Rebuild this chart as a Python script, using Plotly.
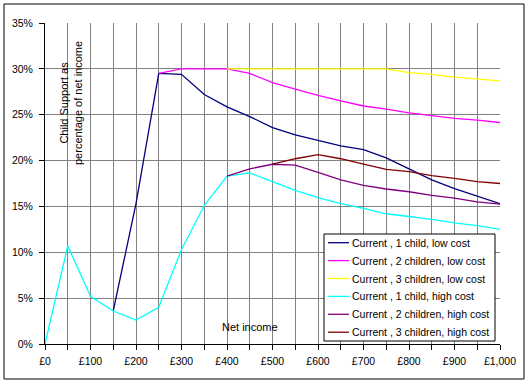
import plotly.graph_objects as go

# ---- data ----
income = [0, 50, 100, 150, 200, 250, 300, 350, 400, 450, 500,
          550, 600, 650, 700, 750, 800, 850, 900, 950, 1000]

series_names = [
    "Current , 1 child, low cost",
    "Current , 2 children, low cost",
    "Current , 3 children, low cost",
    "Current , 1 child, high cost",
    "Current , 2 children, high cost",
    "Current , 3 children, high cost",
]
series_colors = ["#000080", "#FF00FF", "#FFFF00", "#00FFFF", "#800080", "#800000"]

one_child_low = [None, None, None, 3.6, 15.3, 29.5, 29.4, 27.2, 25.85, 24.8, 23.6,
                 22.8, 22.2, 21.6, 21.2, 20.3, 19.1, 17.9, 16.95, 16.1, 15.3]
two_children_low = [None, None, None, None, None, 29.5, 30.0, 30.0, 30.0, 29.5, 28.5,
                    27.8, 27.1, 26.5, 25.95, 25.6, 25.2, 24.9, 24.6, 24.4, 24.15]
three_children_low = [None, None, None, None, None, None, None, None, 30.0, 30.0, 30.0,
                      30.0, 30.0, 30.0, 30.0, 30.0, 29.6, 29.4, 29.1, 28.9, 28.7]
one_child_high = [0.0, 10.7, 5.2, 3.6, 2.6, 4.0, 10.3, 15.1, 18.3, 18.65, 17.7,
                  16.75, 15.95, 15.3, 14.8, 14.2, 13.9, 13.6, 13.2, 12.9, 12.5]
two_children_high = [None, None, None, None, None, None, None, None, 18.3, 19.1, 19.6,
                     19.5, 18.7, 17.9, 17.3, 16.9, 16.6, 16.2, 15.9, 15.5, 15.25]
three_children_high = [None, None, None, None, None, None, None, None, None, None, 19.6,
                       20.2, 20.65, 20.2, 19.6, 19.05, 18.8, 18.35, 18.05, 17.7, 17.5]

x_tick_values = [0, 100, 200, 300, 400, 500, 600, 700, 800, 900, 1000]
x_tick_labels = ["£0", "£100", "£200", "£300", "£400", "£500",
                 "£600", "£700", "£800", "£900", "£1,000"]
y_tick_values = [0, 5, 10, 15, 20, 25, 30, 35]
y_tick_labels = ["0%", "5%", "10%", "15%", "20%", "25%", "30%", "35%"]

y_title = "Child Support as<br>percentage of net income"
x_title = "Net income"

FONT = "Liberation Sans, Arial, sans-serif"
all_series = [one_child_low, two_children_low, three_children_low,
              one_child_high, two_children_high, three_children_high]

# plot-area geometry in pixels (for paper-coordinate layout items)
W, H = 531, 384
ML, MR, MT, MB = 45, 31, 23, 40
PW, PH = W - ML - MR, H - MT - MB


def px(xp):
    return (xp - ML) / PW


def py(yp):
    return (H - MB - yp) / PH


fig = go.Figure()
for name, color, vals in zip(series_names, series_colors, all_series):
    fig.add_trace(go.Scatter(x=income, y=vals, name=name, mode="lines",
                             line=dict(color=color, width=1.3),
                             connectgaps=False, showlegend=False))

grid = "#808080"
fig.update_layout(
    width=W, height=H,
    margin=dict(l=ML, r=MR, t=MT, b=MB),
    paper_bgcolor="white", plot_bgcolor="white",
    font=dict(family=FONT, size=11, color="black"),
    showlegend=False,
    xaxis=dict(range=[0, 1000], tickvals=x_tick_values, ticktext=x_tick_labels,
               showgrid=True, gridcolor=grid, gridwidth=1,
               showline=True, linecolor="black", linewidth=1,
               ticks="outside", ticklen=5, tickcolor="black",
               minor=dict(dtick=50, showgrid=True, gridcolor=grid,
                          ticks="outside", ticklen=5, tickcolor="black"),
               zeroline=False, tickfont=dict(size=10.5), ticklabelstandoff=2),
    yaxis=dict(range=[0, 35], tickvals=y_tick_values, ticktext=y_tick_labels,
               showgrid=True, gridcolor=grid, gridwidth=1,
               showline=True, linecolor="black", linewidth=1,
               ticks="outside", ticklen=5, tickcolor="black",
               zeroline=False, tickfont=dict(size=10.5), ticklabelstandoff=4),
)

# outer chart border
fig.add_shape(type="rect", xref="paper", yref="paper",
              x0=px(4), x1=px(524), y0=py(379), y1=py(4),
              line=dict(color="black", width=1), fillcolor="rgba(0,0,0,0)",
              layer="above")
# white backgrounds behind the axis titles
fig.add_shape(type="rect", xref="paper", yref="paper",
              x0=px(53), x1=px(85), y0=py(168), y1=py(40),
              line=dict(width=0), fillcolor="white", layer="between")
fig.add_shape(type="rect", xref="paper", yref="paper",
              x0=px(218), x1=px(281), y0=py(343), y1=py(315),
              line=dict(width=0), fillcolor="white", layer="between")

fig.add_annotation(x=px(71), y=py(103), xref="paper", yref="paper", text=y_title,
                   textangle=-90, showarrow=False,
                   xanchor="center", yanchor="middle",
                   font=dict(family=FONT, size=11, color="black"))
fig.add_annotation(x=px(250), y=py(327), xref="paper", yref="paper", text=x_title,
                   showarrow=False, xanchor="center", yanchor="middle",
                   font=dict(family=FONT, size=11, color="black"))

# legend box (drawn by hand to match the original's compact layout)
fig.add_shape(type="rect", xref="paper", yref="paper",
              x0=px(324), x1=px(495), y0=py(341), y1=py(234),
              line=dict(color="black", width=1), fillcolor="white", layer="above")
for i, (name, color) in enumerate(zip(series_names, series_colors)):
    yc = 242.7 + i * 17.9
    fig.add_shape(type="line", xref="paper", yref="paper",
                  x0=px(328), x1=px(349), y0=py(yc), y1=py(yc),
                  line=dict(color=color, width=1.3), layer="above")
    fig.add_annotation(x=px(350), y=py(yc), xref="paper", yref="paper",
                       text=name, showarrow=False, xanchor="left", yanchor="middle",
                       font=dict(family=FONT, size=10.5, color="black"))

fig.write_html("out.html", config={"displayModeBar": False},
               post_script="document.body.style.margin='0px';")
